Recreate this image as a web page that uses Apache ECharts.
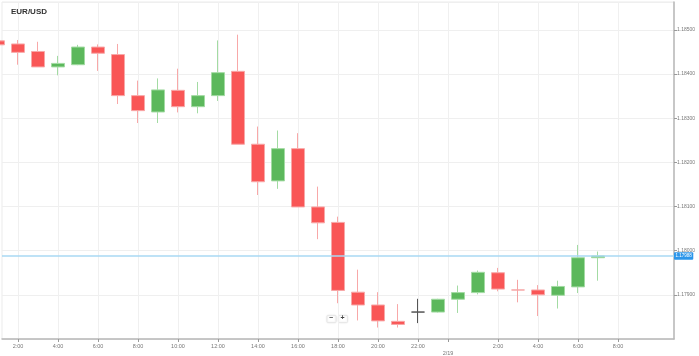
<!DOCTYPE html>
<html><head><meta charset="utf-8">
<script src="https://cdn.jsdelivr.net/npm/echarts@6/dist/echarts.min.js"></script>
<style>html,body{margin:0;padding:0;background:#fff}#c{width:699px;height:356px}</style>
</head><body><div id="c"></div>
<script>
// Hours since 0:00 on 2/18 (hour 24 = 0:00 on 2/19)
const hours = [1,2,3,4,5,6,7,8,9,10,11,12,13,14,15,16,17,18,19,20,21,22,23,24,25,26,27,28,29,30,31];
const openV  = [1.18475,1.18468,1.18451,1.18416,1.18421,1.18461,1.18444,1.18351,1.18314,1.18363,1.18326,1.18351,1.18406,1.18241,1.18158,1.18231,1.18099,1.18064,1.17906,1.17877,1.17840,1.17861,1.17861,1.17890,1.17905,1.17950,1.17911,1.17911,1.17899,1.17918,1.17984];
const closeV = [1.18466,1.18449,1.18416,1.18424,1.18461,1.18447,1.18351,1.18317,1.18364,1.18326,1.18351,1.18403,1.18241,1.18156,1.18231,1.18099,1.18063,1.17910,1.17877,1.17841,1.17833,1.17861,1.17890,1.17905,1.17951,1.17913,1.17911,1.17900,1.17919,1.17984,1.17988];
const lowV   = [1.18461,1.18421,1.18416,1.18397,1.18420,1.18407,1.18332,1.18289,1.18289,1.18313,1.18311,1.18339,1.18241,1.18126,1.18140,1.18099,1.18026,1.17881,1.17842,1.17826,1.17826,1.17836,1.17860,1.17859,1.17901,1.17908,1.17883,1.17852,1.17869,1.17904,1.17932];
const highV  = [1.18480,1.18477,1.18473,1.18441,1.18466,1.18467,1.18468,1.18385,1.18390,1.18412,1.18382,1.18476,1.18489,1.18281,1.18272,1.18266,1.18145,1.18077,1.17957,1.17906,1.17879,1.17891,1.17891,1.17921,1.17955,1.17961,1.17934,1.17922,1.17932,1.18013,1.17998];
// Doji colours (open == close) by hour
const dojiHours = [22, 27];
const dojiColors = ['#555555', '#f5a5a5'];
const lastPrice = 1.17988;
const xTickValues = [2,4,6,8,10,12,14,16,18,20,22,23.5,26,28,30,32];
const dateLabel = '2/19';
const titleText = 'EUR/USD';

const chart = echarts.init(document.getElementById('c'), null, {renderer: 'canvas'});

const data = hours.map((h, i) => {
  const item = {value: [h, openV[i], closeV[i], lowV[i], highV[i]]};
  const di = dojiHours.indexOf(h);
  if (di >= 0) {
    const c = dojiColors[di];
    item.itemStyle = {color: c, color0: c, borderColor: c, borderColor0: c, borderColorDoji: c};
  }
  return item;
});

chart.setOption({
  animation: false,
  title: {text: titleText, left: 11, top: 8, padding: 0,
    textStyle: {fontSize: 8, fontWeight: 'bold', color: '#333', fontFamily: 'Arial, Liberation Sans, sans-serif'}},
  grid: {left: 2, right: 25, top: 2, bottom: 17, show: true, borderColor: '#ebebeb', borderWidth: 1},
  xAxis: {
    type: 'value', min: 1.2, max: 34.8,
    axisLine: {show: true, onZero: false, lineStyle: {color: '#b8b8b8', width: 1.5}},
    axisTick: {show: true, customValues: xTickValues, length: 3, lineStyle: {color: '#999'}},
    axisLabel: {customValues: xTickValues, fontSize: 5.5, color: '#777', margin: 4,
      fontFamily: 'Arial, Liberation Sans, sans-serif',
      formatter: v => (Math.abs(v - 23.5) < 0.01 ? '{d|' + dateLabel + '}' : ((v % 24) + ':00')),
      rich: {d: {fontSize: 5.5, color: '#777', padding: [7, 0, 0, 0]}}},
    splitLine: {show: true, lineStyle: {color: '#f0f0f0', width: 1}}
  },
  yAxis: {
    type: 'value', position: 'right', min: 1.178, max: 1.18563, interval: 0.001,
    axisLine: {show: true, lineStyle: {color: '#b8b8b8', width: 1.5}},
    axisTick: {show: true, length: 3, lineStyle: {color: '#999'}},
    axisLabel: {fontSize: 5, color: '#777', margin: 3, showMinLabel: false, showMaxLabel: false,
      hideOverlap: false,
      fontFamily: 'Arial, Liberation Sans, sans-serif',
      formatter: v => v.toFixed(5)},
    splitLine: {show: true, lineStyle: {color: '#efefef', width: 1}}
  },
  series: [{
    type: 'candlestick',
    clip: false,
    barWidth: 13,
    data: data,
    itemStyle: {color: '#5cb85c', color0: '#f95656', borderColor: '#a3dba3', borderColor0: '#f8a8a8', borderWidth: 1},
    markLine: {
      silent: true, symbol: ['none', 'none'], precision: 5,
      lineStyle: {color: '#a9d8f3', width: 1.5, type: 'solid'},
      label: {position: 'end', distance: 0, formatter: lastPrice.toFixed(5), fontSize: 4.5, color: '#fff',
        backgroundColor: '#2c96ea', padding: [1.5, 1.5, 1, 1.5], borderRadius: 1,
        fontFamily: 'Arial, Liberation Sans, sans-serif'},
      data: [{yAxis: lastPrice}]
    }
  }],
  graphic: [
    {type: 'rect', shape: {x: 327, y: 315.5, width: 9, height: 7, r: 1},
      style: {fill: '#fff', stroke: '#e6e6e6', lineWidth: 0.8, shadowBlur: 2, shadowColor: 'rgba(0,0,0,0.12)'}},
    {type: 'rect', shape: {x: 338.5, y: 315.5, width: 9, height: 7, r: 1},
      style: {fill: '#fff', stroke: '#e6e6e6', lineWidth: 0.8, shadowBlur: 2, shadowColor: 'rgba(0,0,0,0.12)'}},
    {type: 'text', left: 329, top: 314.5, style: {text: '−', fontSize: 7, fontWeight: 'bold', fill: '#444'}},
    {type: 'text', left: 340.5, top: 314.5, style: {text: '+', fontSize: 7, fontWeight: 'bold', fill: '#444'}}
  ]
});
</script>
</body></html>
